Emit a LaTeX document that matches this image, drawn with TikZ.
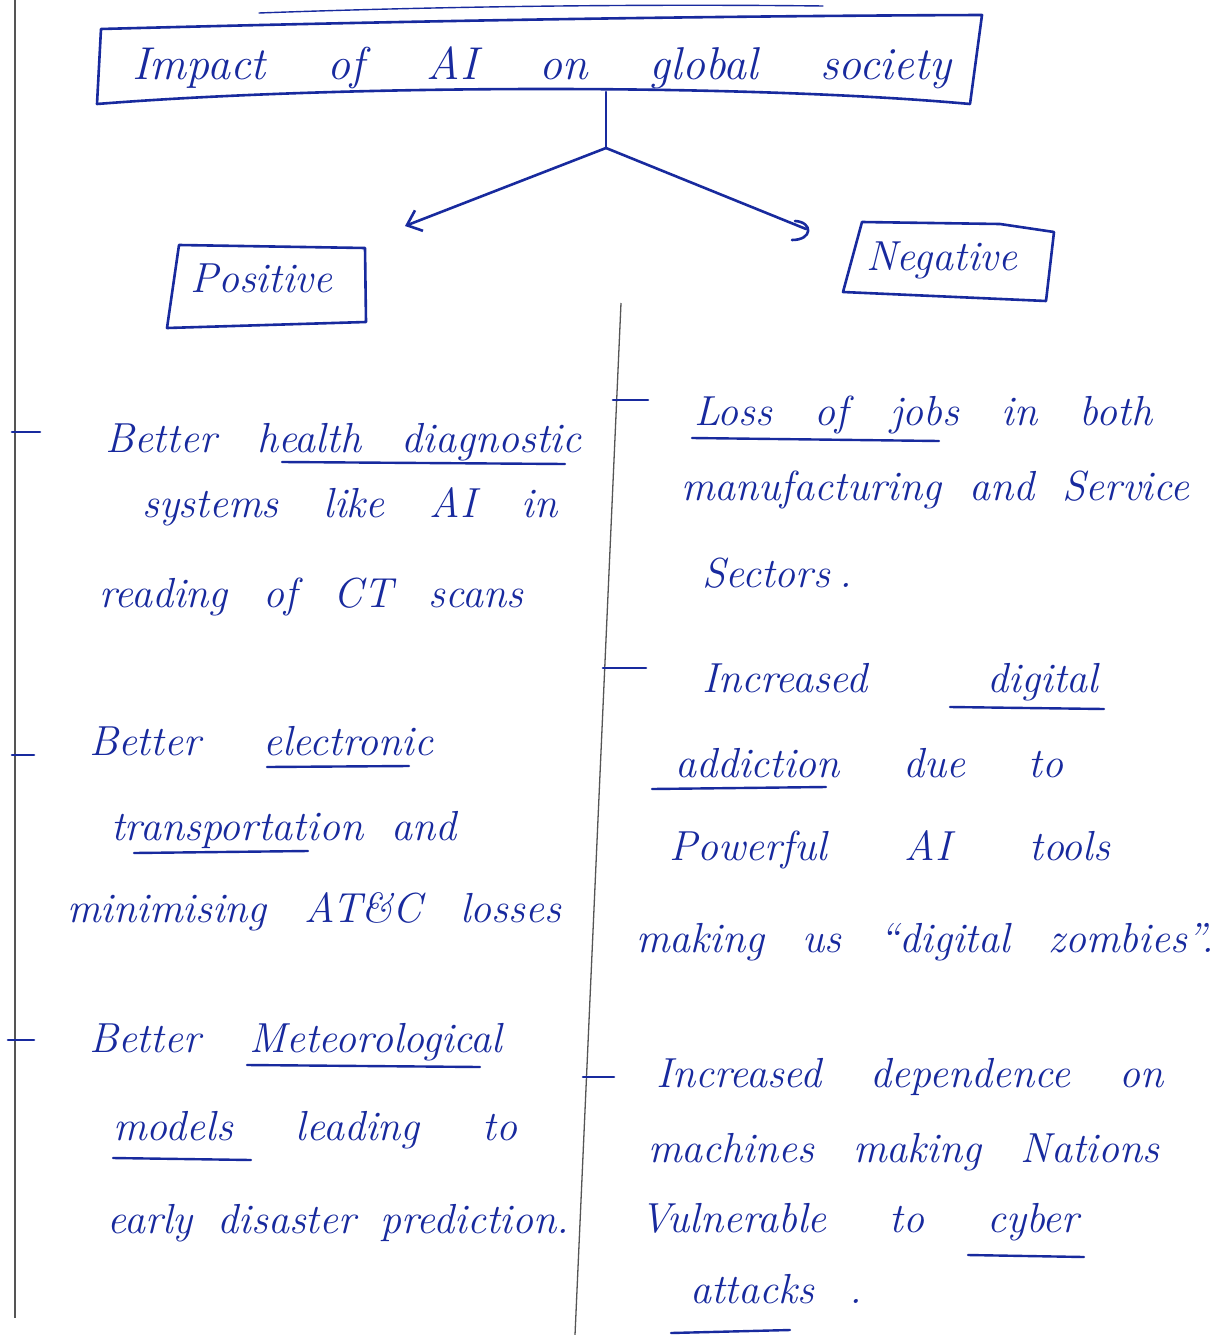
\documentclass[tikz,border=0pt]{standalone}
\usepackage{fontspec}
\usetikzlibrary{arrows.meta}
\definecolor{ink}{RGB}{24,42,158}
\definecolor{pencil}{RGB}{85,85,85}

\begin{document}
\begin{tikzpicture}[x=1pt,y=-1pt,
  inkline/.style={draw=ink, line width=2.6pt, line cap=round, line join=round},
  underl/.style={draw=ink, line width=2.4pt, line cap=round},
  rulel/.style={draw=pencil, line width=1.3pt},
  txt/.style={anchor=base west, inner sep=0pt, text=ink,
              font=\fontsize{42}{50}\selectfont\itshape},
  headtxt/.style={txt, font=\fontsize{46}{54}\selectfont\itshape},
  barb/.style={-{Straight Barb[length=13pt,width=22pt,line width=2.6pt]}}
]
\useasboundingbox (0,0) rectangle (1217,1335);
\fill[white] (0,0) rectangle (1217,1335);

% page rules: margin line and middle divider
\draw[rulel] (15,0) -- (15,1318);
\draw[rulel] (621,303) -- (575,1335);

% title
\node[headtxt] (title) at (132,80)
  {\hbox to 819pt{Impact\hfil of\hfil AI\hfil on\hfil global\hfil society}};
\draw[inkline] (101,29) .. controls (400,21) and (700,16) .. (982,15)
  -- (970,104) .. controls (750,84) and (350,84) .. (97,104) -- cycle;
\draw[draw=ink, line width=1.4pt, line cap=round] (259,13) .. controls (450,6) and (650,4) .. (823,6);

% branches
\coordinate (stem) at (606,92);
\coordinate (fork) at (606,148);
\coordinate (ltip) at (405,226);
\coordinate (rtip) at (806,229);
\draw[inkline] (stem) -- (fork);
\draw[inkline, barb] (fork) -- (ltip);
\draw[inkline] (fork) -- (rtip);
\draw[inkline] (795,221) .. controls (813,222) and (813,240) .. (792,240);

% category boxes
\node[txt] (pos) at (190,292) {Positive};
\draw[inkline] (179,245) -- (365,248) -- (366,322) -- (167,328) -- cycle;
\node[txt] (neg) at (866,270) {Negative};
\draw[inkline] (862,222) -- (1000,224) -- (1054,232) -- (1046,301) -- (843,292) -- cycle;

% bullet dashes
\draw[inkline] (12,432) -- (40,432);
\draw[inkline] (12,755) -- (34,755);
\draw[inkline] (8,1040) -- (34,1040);
\draw[inkline] (613,400) -- (648,400);
\draw[inkline] (603,668) -- (646,668);
\draw[inkline] (583,1077) -- (614,1077);

% positive points
\node[txt] (p1) at (105,452) {\hbox to 476pt{Better\hfil health\hfil diagnostic}};
\node[txt] (p2) at (142,517) {\hbox to 415pt{systems\hfil like\hfil AI\hfil in}};
\node[txt] (p3) at (99,607) {\hbox to 424pt{reading\hfil of\hfil CT\hfil scans}};
\node[txt] (p4) at (89,755) {\hbox to 344pt{Better\hfil electronic}};
\node[txt] (p5) at (111,840) {\hbox to 345pt{transportation\hfil and}};
\node[txt] (p6) at (67,922) {\hbox to 494pt{minimising\hfil AT\&C\hfil losses}};
\node[txt] (p7) at (89,1052) {\hbox to 413pt{Better\hfil Meteorological}};
\node[txt] (p8) at (113,1140) {\hbox to 404pt{models\hfil leading\hfil to}};
\node[txt] (p9) at (107,1233) {\hbox to 462pt{early\hfil disaster\hfil prediction.}};

% negative points
\node[txt] (n1) at (694,425) {\hbox to 458pt{Loss\hfil of\hfil jobs\hfil in\hfil both}};
\node[txt] (n2) at (681,500) {\hbox to 508pt{manufacturing\hfil and\hfil Service}};
\node[txt] (n3) at (702,587) {\hbox to 150pt{Sectors\hfil.}};
\node[txt] (n4) at (702,692) {\hbox to 396pt{Increased\hfil digital}};
\node[txt] (n5) at (675,777) {\hbox to 388pt{addiction\hfil due\hfil to}};
\node[txt] (n6) at (669,860) {\hbox to 441pt{Powerful\hfil AI\hfil tools}};
\node[txt] (n7) at (636,952) {\hbox to 578pt{making\hfil us\hfil ``digital\hfil zombies''.}};
\node[txt] (n8) at (656,1087) {\hbox to 507pt{Increased\hfil dependence\hfil on}};
\node[txt] (n9) at (648,1162) {\hbox to 511pt{machines\hfil making\hfil Nations}};
\node[txt] (n10) at (640,1232) {\hbox to 439pt{Vulnerable\hfil to\hfil cyber}};
\node[txt] (n11) at (690,1303) {\hbox to 172pt{attacks\hfil.}};

% underlines
\draw[underl] (282,462) -- (565,464);
\draw[underl] (267,767) -- (409,766);
\draw[underl] (134,853) -- (308,851);
\draw[underl] (247,1065) -- (480,1067);
\draw[underl] (113,1158) -- (251,1160);
\draw[underl] (692,438) -- (939,441);
\draw[underl] (950,707) -- (1104,709);
\draw[underl] (652,789) -- (826,787);
\draw[underl] (968,1255) -- (1084,1257);
\draw[underl] (671,1333) -- (790,1330);
\end{tikzpicture}
\end{document}
